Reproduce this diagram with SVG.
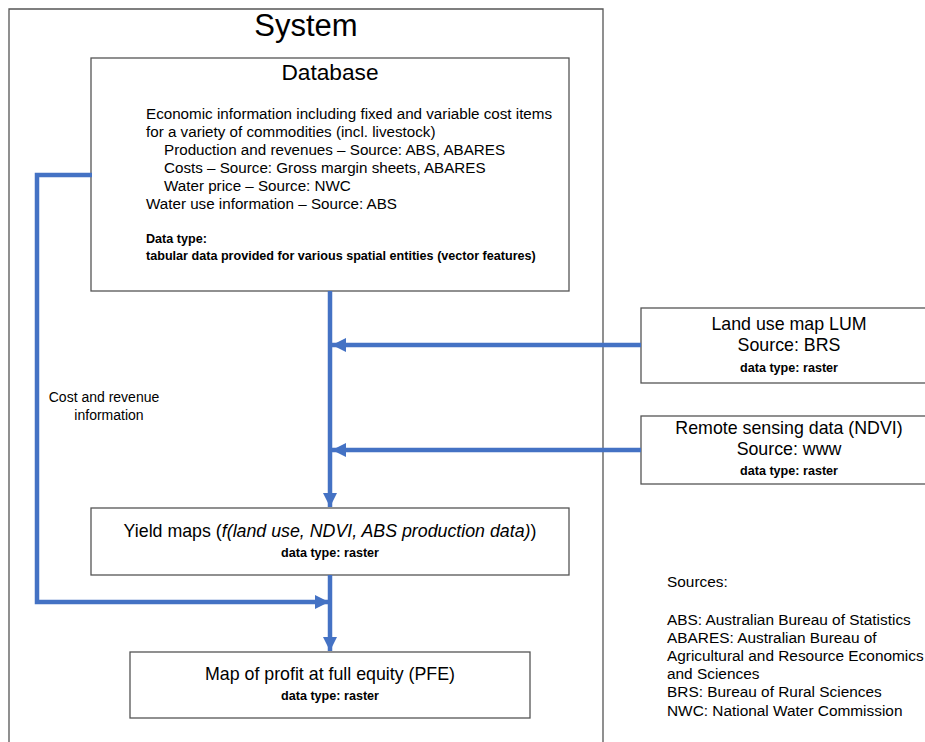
<svg xmlns="http://www.w3.org/2000/svg" width="925" height="742" viewBox="0 0 925 742">
<defs>
<style>
.box{fill:#fff;stroke:#555;stroke-width:1.3}
text{font-family:"Liberation Sans",Arial,sans-serif;fill:#000}
.t{font-size:17.8px;text-anchor:middle}
.b{font-size:15.2px}
.dt{font-size:12.6px;font-weight:bold}
.c{text-anchor:middle}
.s{font-size:15.4px}
.conn{fill:none;stroke:#4472C4;stroke-width:4.5}
</style>
<marker id="ah" markerWidth="3.2" markerHeight="3.2" refX="3.2" refY="1.6" orient="auto" markerUnits="strokeWidth">
<path d="M0,0 L3.2,1.6 L0,3.2 Z" fill="#4472C4"/>
</marker>
</defs>
<rect width="925" height="742" fill="#fff"/>
<g id="system">
<path d="M9,745 V9 H603 V745" fill="#fff" stroke="#555" stroke-width="1.3"/>
<text x="306" y="36" font-size="31" text-anchor="middle">System</text>
</g>
<g id="database">
<rect class="box" x="91" y="58" width="478" height="233"/>
<text x="330" y="80" font-size="22.7" text-anchor="middle">Database</text>
<text class="b" x="146" y="119">Economic information including fixed and variable cost items</text>
<text class="b" x="146" y="137">for a variety of commodities (incl. livestock)</text>
<text class="b" x="164" y="155">Production and revenues – Source: ABS, ABARES</text>
<text class="b" x="164" y="173">Costs – Source: Gross margin sheets, ABARES</text>
<text class="b" x="164" y="191">Water price – Source: NWC</text>
<text class="b" x="146" y="209">Water use information – Source: ABS</text>
<text class="dt" x="146" y="243">Data type:</text>
<text class="dt" x="146" y="260">tabular data provided for various spatial entities (vector features)</text>
</g>
<g id="lum">
<rect class="box" x="641" y="308" width="290" height="75"/>
<text class="t" x="789" y="330">Land use map LUM</text>
<text class="t" x="789" y="351">Source: BRS</text>
<text class="dt c" x="789" y="372">data type: raster</text>
</g>
<g id="ndvi">
<rect class="box" x="641" y="416" width="290" height="68"/>
<text class="t" x="789" y="434">Remote sensing data (NDVI)</text>
<text class="t" x="789" y="455">Source: www</text>
<text class="dt c" x="789" y="475">data type: raster</text>
</g>
<g id="yield">
<rect class="box" x="91" y="508" width="478" height="67"/>
<text class="t" x="330" y="537">Yield maps (<tspan font-style="italic">f(land use, NDVI, ABS production data)</tspan>)</text>
<text class="dt c" x="330" y="557">data type: raster</text>
</g>
<g id="pfe">
<rect class="box" x="130" y="652" width="400" height="66"/>
<text class="t" x="330" y="680">Map of profit at full equity (PFE)</text>
<text class="dt c" x="330" y="700">data type: raster</text>
</g>
<g id="connectors">
<path class="conn" d="M330,291 V507" marker-end="url(#ah)"/>
<path class="conn" d="M641,345 H332" marker-end="url(#ah)"/>
<path class="conn" d="M641,450 H332" marker-end="url(#ah)"/>
<path class="conn" d="M92,175 H37 V602 H329" marker-end="url(#ah)"/>
<path class="conn" d="M330,575 V651" marker-end="url(#ah)"/>
<text x="104" y="402" font-size="14" text-anchor="middle">Cost and revenue</text>
<text x="109" y="420" font-size="14" text-anchor="middle">information</text>
</g>
<g id="sources">
<text class="s" x="667" y="587">Sources:</text>
<text class="s" x="667" y="625">ABS: Australian Bureau of Statistics</text>
<text class="s" x="667" y="643">ABARES: Australian Bureau of</text>
<text class="s" x="667" y="661">Agricultural and Resource Economics</text>
<text class="s" x="667" y="679">and Sciences</text>
<text class="s" x="667" y="697">BRS: Bureau of Rural Sciences</text>
<text class="s" x="667" y="716">NWC: National Water Commission</text>
</g>
</svg>
